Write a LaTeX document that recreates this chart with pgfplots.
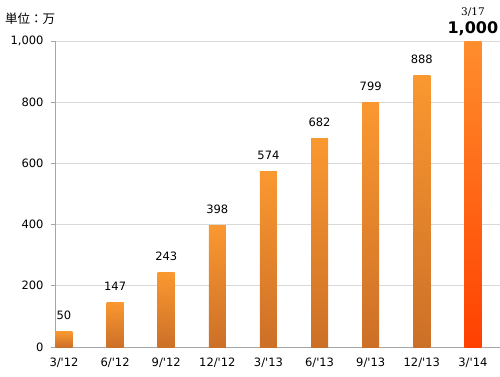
\documentclass[border=0pt]{standalone}
\usepackage{fontspec}
\setmainfont{DejaVu Sans}
\newfontfamily\cjk{Noto Sans CJK JP}
\newfontfamily\serifnum{DejaVu Serif}
\usepackage{pgfplots}
\pgfplotsset{compat=1.18}
\definecolor{barTop}{RGB}{250,152,48}
\definecolor{barBot}{RGB}{204,112,40}
\definecolor{lastTop}{RGB}{255,142,45}
\definecolor{lastBot}{RGB}{255,64,0}
\definecolor{gridc}{RGB}{217,217,217}
\definecolor{axisc}{RGB}{166,166,166}
\pgfplotsset{
  mybar/.style={ybar, bar width=17pt, bar shift=0pt, draw=none, top color=barTop, bottom color=barBot,
  nodes near coords,
  nodes near coords style={font=\fontsize{11.5}{13}\selectfont, anchor=base, inner sep=0pt, yshift=12pt, text=black,
    /pgf/number format/assume math mode=true}},
}
\begin{document}
\begin{tikzpicture}
\useasboundingbox (0pt,0pt) rectangle (500pt,376pt);
\begin{axis}[at={(55pt,29pt)}, anchor=south west, scale only axis,
  width=445pt, height=306pt,
  xmin=-0.176, xmax=8.53, ymin=0, ymax=1000,
  enlargelimits=false,
  axis x line*=bottom, axis y line*=left,
  axis line style={draw=axisc, line width=0.8pt},
  ymajorgrids, grid style={draw=gridc, line width=0.8pt},
  ytick={0,200,400,600,800,1000},
  xtick={0,...,8},
  xticklabels={3/\textquotesingle12,6/\textquotesingle12,9/\textquotesingle12,12/\textquotesingle12,3/\textquotesingle13,6/\textquotesingle13,9/\textquotesingle13,12/\textquotesingle13,3/\textquotesingle14},
  tick align=outside, major tick length=4pt,
  xtick style={draw=none},
  ytick style={draw=axisc, line width=0.8pt},
  ticklabel style={font=\fontsize{11.5}{13}\selectfont},
  yticklabel style={xshift=-4pt},
  xticklabel style={yshift=-3pt},
  /pgf/number format/1000 sep={,},
  /pgf/number format/assume math mode=true,
  clip=false,
]
\addplot[mybar] coordinates {(0,50)};
\addplot[mybar] coordinates {(1,147)};
\addplot[mybar] coordinates {(2,243)};
\addplot[mybar] coordinates {(3,398)};
\addplot[mybar] coordinates {(4,574)};
\addplot[mybar] coordinates {(5,682)};
\addplot[mybar] coordinates {(6,799)};
\addplot[mybar] coordinates {(7,888)};
\addplot[ybar, bar width=17pt, bar shift=0pt, draw=none, top color=lastTop, bottom color=lastBot,
  nodes near coords={{\serifnum\fontsize{10.5}{11}\selectfont 3/17}\\[4pt]{\fontsize{16}{17}\selectfont\bfseries 1,000}},
  nodes near coords style={align=center, anchor=south, inner sep=0pt, yshift=5pt, text=black}]
  coordinates {(8,1000)};
\end{axis}
\node[anchor=west, inner sep=0pt] at (5pt,357pt) {\cjk\fontsize{12.5}{14}\selectfont 単位：万};
\end{tikzpicture}
\end{document}
